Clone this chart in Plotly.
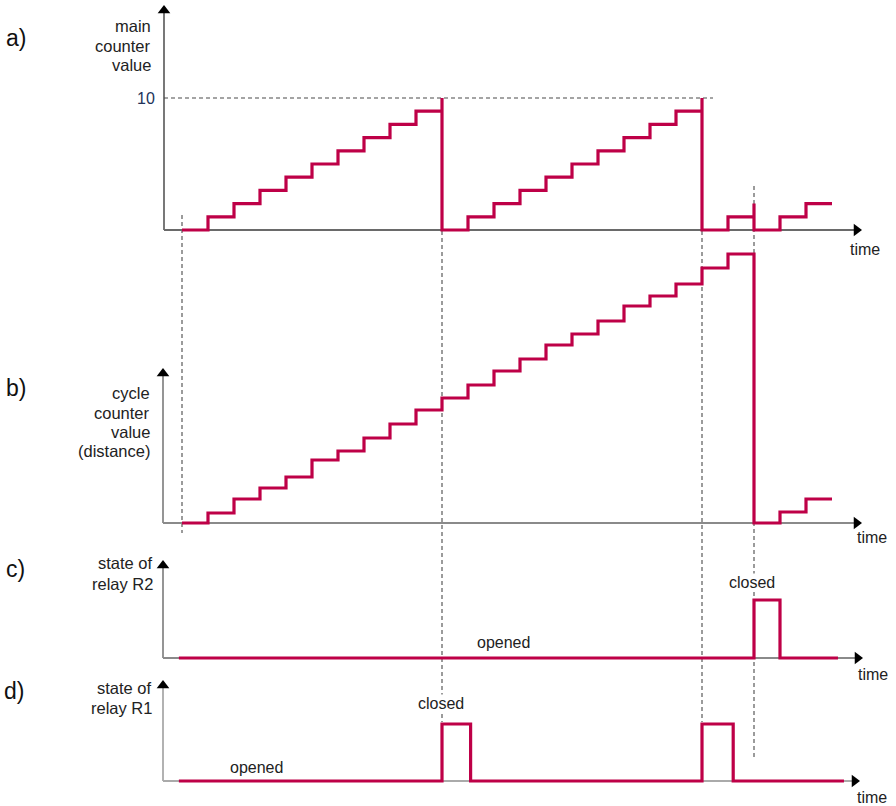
import plotly.graph_objects as go

# ---------------- data ----------------
# time in counting steps (one main-counter increment per step)
main_t = [0, 1, 2, 3, 4, 5, 6, 7, 8, 9, 10, 10, 11, 12, 13, 14, 15, 16, 17, 18, 19, 20, 20,
          21, 22, 22, 23, 24, 25]
main_v = [0, 1, 2, 3, 4, 5, 6, 7, 8, 9, 10, 0, 1, 2, 3, 4, 5, 6, 7, 8, 9, 10, 0,
          1, 2, 0, 1, 2, 2]

cycle_t = [0, 1, 2, 3, 4, 5, 6, 7, 8, 9, 10, 11, 12, 13, 14, 15, 16, 17, 18, 19, 20, 21,
           22, 22, 23, 24, 25]
cycle_v = [0, 10, 24, 35, 46, 63, 72, 85, 99, 113, 125, 138, 152, 164, 178, 189, 202, 217,
           227, 239, 255, 269, 269, 0, 11, 24, 24]

r2_t = [-0.12, 22, 23, 25.23]
r2_v = [0, 1, 0, 0]

r1_t = [-0.12, 10, 11.1, 20, 21.2, 25.46]
r1_v = [0, 1, 0, 1, 0, 0]

main_max = 10
event_t = [0, 10, 20, 22]

panel_letters = ["a)", "b)", "c)", "d)"]
axis_titles = [["main", "counter", "value"],
               ["cycle", "counter", "value", "(distance)"],
               ["state of", "relay R2"],
               ["state of", "relay R1"]]

# ---------------- layout geometry (pixels) ----------------
W, H = 896, 806
T0_PX, STEP_PX = 182.0, 26.0
RED = "#BE0047"
AX = "#8a8a8a"
DASH = "#4a4a4a"
FONT = "Liberation Sans, Arial, sans-serif"

def t_of(px):
    return (px - T0_PX) / STEP_PX

def xp(px):
    return px / W

def yp(py):
    return 1 - py / H

panels = [
    dict(base=230, scale=13.2, top=5, tip=862, yaxis="y", ax_col="#6a6a6a", yx=164),
    dict(base=523, scale=1.0, top=368, tip=862, yaxis="y2", ax_col=AX, yx=163),
    dict(base=658, scale=58.0, top=560, tip=863, yaxis="y3", ax_col=AX, yx=163),
    dict(base=781, scale=57.0, top=680, tip=860, yaxis="y4", ax_col="#aaaaaa", yx=163),
]

fig = go.Figure()

layout = dict(
    width=W, height=H,
    margin=dict(l=0, r=0, t=0, b=0),
    paper_bgcolor="white", plot_bgcolor="rgba(0,0,0,0)",
    showlegend=False,
    xaxis=dict(domain=[0, 1], range=[t_of(0), t_of(W)], visible=False, fixedrange=True),
)
for i, p in enumerate(panels):
    key = "yaxis" if i == 0 else f"yaxis{i+1}"
    rng = [(p["base"] - H) / p["scale"], p["base"] / p["scale"]]
    d = dict(domain=[0, 1], range=rng, visible=False, fixedrange=True)
    if i > 0:
        d["overlaying"] = "y"
    layout[key] = d
fig.update_layout(**layout)

def val(p, py):
    return (p["base"] - py) / p["scale"]

shapes = []
annotations = []

# axes with arrowheads
for p in panels:
    x_ax = t_of(p["yx"])
    shapes.append(dict(type="line", xref="x", yref=p["yaxis"], x0=x_ax, x1=x_ax, layer="below",
                       y0=0, y1=val(p, p["top"] + 6), line=dict(color=p["ax_col"], width=1.8)))
    shapes.append(dict(type="line", xref="x", yref=p["yaxis"], x0=x_ax, x1=t_of(p["tip"] - 6),
                       layer="below", y0=0, y1=0, line=dict(color=p["ax_col"], width=1.8)))
    fig.add_trace(go.Scatter(x=[x_ax], y=[val(p, p["top"] + 5.5)], yaxis=p["yaxis"], mode="markers",
                             marker=dict(symbol="triangle-up", size=11, color="black"),
                             cliponaxis=False, hoverinfo="skip"))
    fig.add_trace(go.Scatter(x=[t_of(p["tip"] - 5.5)], y=[0], yaxis=p["yaxis"], mode="markers",
                             marker=dict(symbol="triangle-right", size=11, color="black"),
                             cliponaxis=False, hoverinfo="skip"))

# dashed guide lines
dash_style = dict(color=DASH, width=1.1, dash="4px,3px")
shapes.append(dict(type="line", xref="x", yref="y", x0=t_of(164), x1=t_of(713), layer="below",
                   y0=main_max, y1=main_max, line=dash_style))
dash_spans = [(215, 533), (98, 722), (98, 722), (186, 758)]
for t, (py0, py1) in zip(event_t, dash_spans):
    shapes.append(dict(type="line", xref="x", yref="paper", x0=t, x1=t,
                       y0=yp(py0), y1=yp(py1), line=dash_style, layer="below"))

# signal traces
series = [(main_t, main_v, "y"), (cycle_t, cycle_v, "y2"), (r2_t, r2_v, "y3"), (r1_t, r1_v, "y4")]
for tx, vy, ya in series:
    fig.add_trace(go.Scatter(x=tx, y=vy, yaxis=ya, mode="lines", line_shape="hv",
                             line=dict(color=RED, width=3.2), cliponaxis=False, hoverinfo="skip"))

# text
letter_pos = [(16, 38), (16, 388), (15, 569), (14, 691)]
for txt, (px, py) in zip(panel_letters, letter_pos):
    annotations.append(dict(text=txt, x=xp(px), y=yp(py), xref="paper", yref="paper",
                            showarrow=False, xanchor="center", yanchor="middle",
                            font=dict(family=FONT, size=23, color="#111")))

title_lines_y = [[26, 46, 65], [393, 413, 432, 451], [563, 584], [688, 708]]
title_right = [153, 152, 155, 154]
for lines, ys, rx in zip(axis_titles, title_lines_y, title_right):
    for txt, py in zip(lines, ys):
        annotations.append(dict(text=txt, x=xp(rx), y=yp(py), xref="paper", yref="paper",
                                showarrow=False, xanchor="right", yanchor="middle",
                                font=dict(family=FONT, size=16.5, color="#222")))

annotations.append(dict(text="10", x=xp(157), y=main_max, xref="paper", yref="y",
                        showarrow=False, xanchor="right", yanchor="middle",
                        font=dict(family=FONT, size=16, color="#22335a")))

time_pos = [(865, 250), (872, 537), (873, 674), (872, 797)]
for px, py in time_pos:
    annotations.append(dict(text="time", x=xp(px), y=yp(py), xref="paper", yref="paper",
                            showarrow=False, xanchor="center", yanchor="middle",
                            font=dict(family=FONT, size=16, color="#222")))

state_labels = [("opened", 503, 642), ("closed", 752, 582), ("closed", 441, 703), ("opened", 256, 767)]
for txt, px, py in state_labels:
    annotations.append(dict(text=txt, x=xp(px), y=yp(py), xref="paper", yref="paper",
                            showarrow=False, xanchor="center", yanchor="middle",
                            bgcolor="white", borderpad=0,
                            font=dict(family=FONT, size=16, color="#222")))

fig.update_layout(shapes=shapes, annotations=annotations)
fig.write_html("out.html", config={"displayModeBar": False},
               post_script="document.body.style.margin='0px';")
